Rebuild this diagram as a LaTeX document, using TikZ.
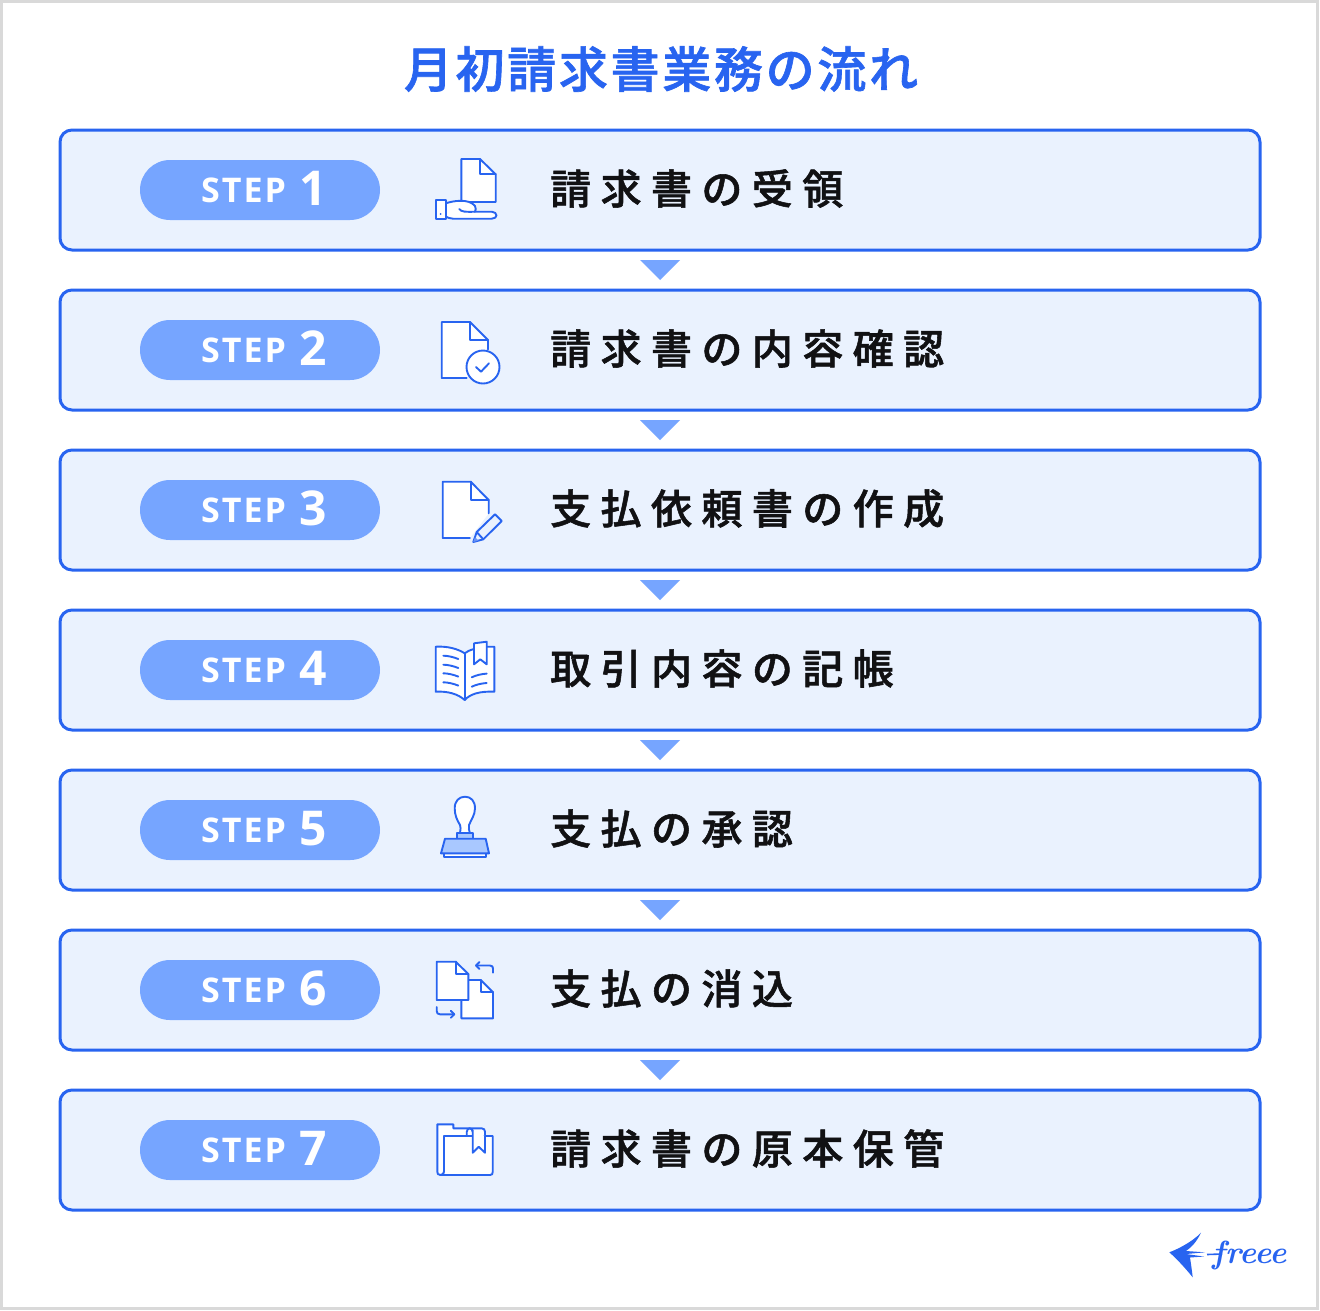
\documentclass[tikz,border=0pt]{standalone}
\usepackage{fontspec}
\usetikzlibrary{calc}
\newfontfamily\jpfont[LetterSpace=23,FakeBold=1.3]{Noto Sans CJK JP Medium}
\newfontfamily\jptitle[LetterSpace=5.5,FakeBold=1.3]{Noto Sans CJK JP Medium}
\newfontfamily\stepfont[LetterSpace=6]{Open Sans}
\newfontfamily\numfont{Open Sans}
\definecolor{framegray}{HTML}{D9D9D9}
\definecolor{lineblue}{HTML}{2864F0}
\definecolor{boxblue}{HTML}{EAF2FE}
\definecolor{pillblue}{HTML}{76A5FF}
\definecolor{softblue}{HTML}{A9C8FF}
\definecolor{inkblack}{HTML}{111113}
\tikzset{
  stepbox/.style={draw=lineblue,line width=3pt,fill=boxblue,rounded corners=12pt,minimum width=1200pt,minimum height=120pt,inner sep=0pt,outer sep=0pt},
  steppill/.style={fill=pillblue,rounded corners=30pt,minimum width=240pt,minimum height=60pt,inner sep=0pt,outer sep=0pt},
  steptext/.style={text=white,inner sep=0pt,font=\stepfont\bfseries\fontsize{34}{40}\selectfont},
  stepnum/.style={text=white,inner sep=0pt,font=\numfont\bfseries\fontsize{48}{50}\selectfont},
  steplabel/.style={text=inkblack,inner sep=0pt,font=\jpfont\fontsize{41}{48}\selectfont},
  icon/.style={draw=lineblue,line width=1.9pt,line join=round,line cap=round},
  iconw/.style={icon,fill=white}
}
\begin{document}
\begin{tikzpicture}[x=1pt,y=-1pt]
    \useasboundingbox (0,0) rectangle (1320,1310);
    \fill[white] (0,0) rectangle (1320,1310);
    \draw[framegray,line width=3pt] (1.5,1.5) rectangle (1317.5,1308);
    \node[text=lineblue,inner sep=0pt,font=\jptitle\fontsize{49}{56}\selectfont] (title) at (661,69) {月初請求書業務の流れ};
    % rows
    \foreach \i/\txt in {1/請求書の受領,2/請求書の内容確認,3/支払依頼書の作成,4/取引内容の記帳,5/支払の承認,6/支払の消込,7/請求書の原本保管}{
        \pgfmathsetmacro{\yc}{190+160*(\i-1)}
        \node[stepbox] (box\i) at (660,\yc) {};
        \node[steppill] (pill\i) at (260,\yc) {};
        \node[steptext,anchor=base west] (step\i) at (201,\yc+12.5) {STEP};
        \node[stepnum,anchor=base] (num\i) at (313,\yc+15.5) {\i};
        \node[steplabel,anchor=west] (label\i) at (550,\yc-1.5) {\txt};
    }
    \foreach \i in {1,...,6}{
        \fill[pillblue] ($(box\i.south)+(-20,10)$) -- ($(box\i.south)+(20,10)$) -- ($(box\i.south)+(0,30)$) -- cycle;
    }
    % icon 1
    \draw[iconw] (461.3,159) -- (480,159) -- (495.7,174.3) -- (495.7,202) -- (461.3,202) -- cycle;
    \draw[icon] (480,159) -- (480,174.3) -- (495.7,174.3);
    \draw[iconw] (446,203.3) .. controls (452,201) and (469,198) .. (475,206) .. controls (476,208) and (476,210) .. (475,211.7) -- (491.7,211.7) .. controls (498,212) and (498,218.7) .. (491.7,218.7) -- (453,218.7) .. controls (450,218.7) and (448,217.5) .. (446,216.7) -- cycle;
    \draw[icon] (459.3,209) .. controls (461,212) and (466,212) .. (475,211.7);
    \draw[iconw] (436,200.3) rectangle (446,219);
    \fill[lineblue] (440.7,214) circle (1pt);
    % icon 2
    \draw[iconw] (466.7,378) -- (441.7,378) -- (441.7,322) -- (470,322) -- (488,340) -- (488,349.3);
    \draw[icon] (470,322) -- (470,340) -- (488,340);
    \draw[iconw] (483,367) circle (16.5);
    \draw[icon] (476,367) -- (481,371.7) -- (489,363.3);
    % icon 3
    \draw[iconw] (470,538) -- (442.7,538) -- (442.7,481.7) -- (470.7,481.7) -- (488.7,500) -- (488.7,513.3);
    \draw[icon] (470.7,481.7) -- (470.7,500) -- (488.7,500);
    \draw[icon,fill=boxblue] (473.3,542) -- (476.7,532) -- (495,514.3) -- (501.7,521) -- (483.3,539.3) -- cycle;
    \draw[icon] (476.7,532) -- (483.3,539.3);
    \fill[lineblue!70] (473.3,542) -- (475,537) -- (478.5,540.5) -- cycle;
    % icon 4
    \draw[iconw] (435.7,646.7) .. controls (448,646) and (458,649) .. (464.7,653.3) .. controls (467,651.5) and (470,650) .. (474,649) -- (474,646.7) -- (494.3,646.7) -- (494.3,691.7) .. controls (480,691) and (470,694) .. (464.7,700) .. controls (458,694) and (448,691) .. (435.7,691.7) -- cycle;
    \draw[icon] (464.7,653.3) -- (464.7,700);
    \draw[iconw] (474,643.3) -- (486.7,641.7) -- (486.7,664.3) -- (480.3,659.3) -- (474,664.3) -- cycle;
    \foreach \ya in {655.7,664.7,673.3,682.3}{
        \draw[icon] (443.3,\ya) .. controls (448,\ya) and (454,\ya+1.5) .. (458.3,\ya+3.3);
    }
    \foreach \ya in {677.3,686.7}{
        \draw[icon] (471.7,\ya) .. controls (476,\ya-2) and (481,\ya-3.3) .. (486.7,\ya-3.7);
    }
    % icon 5
    \draw[iconw] (460,833.3) .. controls (460.5,829) and (461,826.5) .. (460,825) .. controls (457,820) and (454.7,815) .. (454.7,808.3) .. controls (454.7,801) and (459,796.7) .. (465,796.7) .. controls (471,796.7) and (475,801) .. (475,808.3) .. controls (475,815) and (471,820) .. (469,825) .. controls (468.5,828) and (469,831) .. (470,833.3);
    \draw[icon,fill=softblue] (456.7,833.3) rectangle (473.3,838.7);
    \draw[iconw] (444.3,853.3) rectangle (485.7,857);
    \draw[icon,fill=softblue] (445,838.7) -- (485.7,838.7) -- (489,853.3) -- (441,853.3) -- cycle;
    % icon 6
    \draw[iconw] (461.3,980) -- (480.7,980) -- (493,992.3) -- (493,1018.3) -- (461.3,1018.3) -- cycle;
    \draw[icon] (480.7,980) -- (480.7,992.3) -- (493,992.3);
    \draw[iconw] (436.7,961.7) -- (455.7,961.7) -- (468.3,974) -- (468.3,1000) -- (436.7,1000) -- cycle;
    \draw[icon] (455.7,961.7) -- (455.7,974) -- (468.3,974);
    \draw[icon] (493,972.7) -- (493,968.5) .. controls (493,966.5) and (492,965.5) .. (490,965.5) -- (476,965.5);
    \draw[icon] (479.5,962) -- (476,965.5) -- (479.5,969);
    \draw[icon] (436.7,1007) -- (436.7,1011) .. controls (436.7,1013) and (437.7,1014.3) .. (440,1014.3) -- (454.3,1014.3);
    \draw[icon] (450.8,1010.8) -- (454.3,1014.3) -- (450.8,1017.8);
    % icon 7
    \draw[iconw] (437.3,1124.3) -- (453.3,1124.3) -- (453.3,1128.3) -- (481.7,1128.3) .. controls (483.7,1128.3) and (485,1129.7) .. (485,1131.7) -- (485,1136) -- (444,1136) -- (444,1171.7) .. controls (444,1173.7) and (443,1175) .. (440.5,1175) .. controls (438,1175) and (437.3,1173.7) .. (437.3,1171.7) -- cycle;
    \draw[iconw] (444,1136) -- (492.7,1136) -- (492.7,1172) .. controls (492.7,1174) and (492,1175) .. (490,1175) -- (440.5,1175) .. controls (443,1175) and (444,1173.7) .. (444,1171.7) -- cycle;
    \draw[icon] (466.7,1136) -- (466.7,1132) .. controls (466.7,1129.5) and (468.5,1128.3) .. (469.7,1128.3) .. controls (471.5,1128.3) and (472.7,1130) .. (472.7,1132);
    \draw[iconw] (472.7,1130) -- (472.7,1152.7) -- (478.7,1146.7) -- (485,1152.7) -- (485,1136);
    % logo
    \fill[lineblue] (1169.3,1252.3) .. controls (1178,1249) and (1192,1242) .. (1201,1232.7) .. controls (1197,1241) and (1192,1247) .. (1186,1251) -- (1205,1252.3) -- (1186,1254) -- (1204,1256.5) -- (1190,1257.5) .. controls (1191,1264) and (1192,1271) .. (1192.7,1277.3) .. controls (1186,1269) and (1178,1260) .. (1169.3,1252.3) -- cycle;
    \draw[lineblue,line width=1.6pt] (1207,1254.5) -- (1222,1254);
    \node[text=lineblue,inner sep=0pt,anchor=base west,font=\itshape\bfseries\fontsize{32}{36}\selectfont] (logo) at (1212,1263) {freee};
\end{tikzpicture}
\end{document}
